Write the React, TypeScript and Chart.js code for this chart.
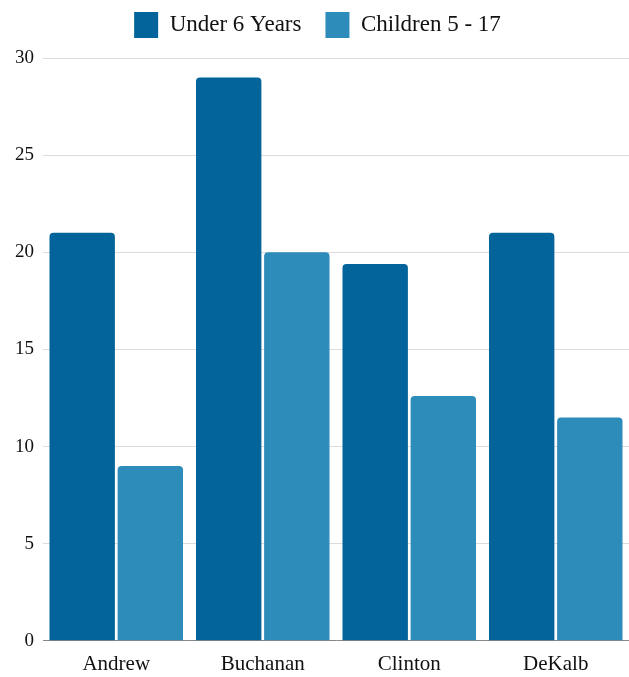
import React, { useEffect, useRef } from "react";
import { Chart, registerables } from "chart.js";

Chart.register(...registerables);

const categories = ["Andrew", "Buchanan", "Clinton", "DeKalb"];
const under6 = [21, 29, 19.4, 21];
const children517 = [9, 20, 12.6, 11.5];
const seriesLabels = ["Under 6 Years", "Children 5 - 17"];
const yTicks = [0, 5, 10, 15, 20, 25, 30];

const FONT = "'Liberation Serif', 'DejaVu Serif', serif";

const legendFitPlugin = {
  id: "legendFit",
  beforeInit(chart: any) {
    const legend = chart.legend;
    if (!legend) return;
    const orig = legend.fit;
    legend.fit = function () {
      orig.call(this);
      this.height += 10;
    };
  },
};

export default function App() {
  const ref = useRef<HTMLCanvasElement | null>(null);
  useEffect(() => {
    if (!ref.current) return;
    const chart = new Chart(ref.current, {
      type: "bar",
      data: {
        labels: categories,
        datasets: [
          {
            label: seriesLabels[0],
            data: under6,
            backgroundColor: "#02649a",
            borderRadius: 4,
            borderSkipped: "bottom",
          },
          {
            label: seriesLabels[1],
            data: children517,
            backgroundColor: "#2e8cbb",
            borderRadius: 4,
            borderSkipped: "bottom",
          },
        ],
      },
      plugins: [legendFitPlugin],
      options: {
        animation: false,
        responsive: true,
        maintainAspectRatio: false,
        layout: { padding: { left: 6, top: -12, right: 0, bottom: 4 } },
        datasets: { bar: { categoryPercentage: 0.93, barPercentage: 0.96 } },
        plugins: {
          legend: {
            position: "top",
            labels: {
              boxWidth: 24,
              boxHeight: 26,
              padding: 24,
              color: "#111",
              font: { family: FONT, size: 23 },
            },
          },
          tooltip: { enabled: false },
        },
        scales: {
          x: {
            grid: { display: false, drawTicks: false },
            border: { display: true, color: "#888", width: 1 },
            ticks: {
              color: "#111",
              font: { family: FONT, size: 21 },
              padding: 11,
            },
          },
          y: {
            min: yTicks[0],
            max: yTicks[yTicks.length - 1],
            afterBuildTicks: (axis: any) => {
              axis.ticks = yTicks.map((v) => ({ value: v }));
            },
            grid: { color: "#dcdcdc", drawTicks: false, lineWidth: 1 },
            border: { display: false },
            ticks: {
              color: "#111",
              font: { family: FONT, size: 19 },
              padding: 9,
            },
          },
        },
      },
    });
    return () => chart.destroy();
  }, []);
  return (
    <div style={{ position: "absolute", left: 0, top: 0, width: 629, height: 692 }}>
      <canvas ref={ref} />
    </div>
  );
}
